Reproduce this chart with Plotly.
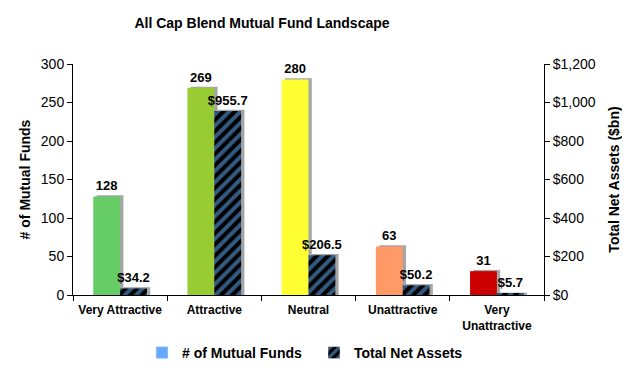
import plotly.graph_objects as go

categories = ["Very Attractive", "Attractive", "Neutral", "Unattractive", "Very<br>Unattractive"]
num_funds = [128, 269, 280, 63, 31]
net_assets = [34.2, 955.7, 206.5, 50.2, 5.7]
fund_colors = ["#66CC66", "#99CC33", "#FFFF33", "#FF9966", "#CC0000"]
left_ticks = [0, 50, 100, 150, 200, 250, 300]
right_ticks = [0, 200, 400, 600, 800, 1000, 1200]
right_tick_labels = ["$0", "$200", "$400", "$600", "$800", "$1,000", "$1,200"]

W = 0.285
SH = 0.035
FONT = "Liberation Sans, Arial, sans-serif"
shadow_color = "#A6A6A6"
hatch = dict(shape="/", fgcolor="#66B3FF", bgcolor="black", size=8, solidity=0.5,
             fillmode="overlay")

# page body has an 8px margin, so the figure is drawn at (8, 8)
FW, FH = 622, 360

fig = go.Figure()

fig.add_trace(go.Bar(x=categories, y=[v + 1.6 for v in num_funds], offset=-W + SH, width=W,
                     marker=dict(color=shadow_color, line=dict(width=0)), showlegend=False,
                     hoverinfo="skip", yaxis="y"))
fig.add_trace(go.Bar(x=categories, y=num_funds, offset=-W, width=W,
                     marker=dict(color=fund_colors, line=dict(width=0)), showlegend=False,
                     text=[str(v) for v in num_funds], textposition="outside",
                     constraintext="none",
                     textfont=dict(family=FONT, size=13, color="black", weight="bold"),
                     cliponaxis=False, yaxis="y"))
fig.add_trace(go.Bar(x=categories, y=[v + 6.5 for v in net_assets], offset=SH, width=W,
                     marker=dict(color=shadow_color, line=dict(width=0)), showlegend=False,
                     hoverinfo="skip", yaxis="y2"))
fig.add_trace(go.Bar(x=categories, y=net_assets, offset=0, width=W,
                     marker=dict(color="black", line=dict(width=0), pattern=hatch),
                     showlegend=False,
                     text=["$" + f"{v:.1f}" for v in net_assets], textposition="outside",
                     constraintext="none",
                     textfont=dict(family=FONT, size=13, color="black", weight="bold"),
                     cliponaxis=False, yaxis="y2"))
fig.add_trace(go.Bar(x=[categories[0]], y=[None], name="# of Mutual Funds",
                     marker=dict(color="#66AAFF"), yaxis="y"))
fig.add_trace(go.Bar(x=[categories[0]], y=[None], name="Total Net Assets",
                     marker=dict(color="black", pattern=hatch), yaxis="y2"))

fig.update_layout(
    width=FW, height=FH,
    margin=dict(l=65, r=86, t=56, b=73, autoexpand=False),
    paper_bgcolor="white", plot_bgcolor="white",
    barmode="overlay",
    font=dict(family=FONT, size=13, color="black"),
    title=dict(text="<b>All Cap Blend Mutual Fund Landscape</b>", x=254 / FW, xanchor="center",
               xref="container", y=1 - 10 / FH, yanchor="top", yref="container",
               font=dict(family=FONT, size=14, color="black")),
    xaxis=dict(type="category", tickson="boundaries", ticks="outside", ticklen=5,
               tickcolor="black", showline=True, linecolor="black", linewidth=1,
               showgrid=False, automargin=False, ticklabelstandoff=4,
               tickfont=dict(family=FONT, size=12, weight="bold")),
    yaxis=dict(range=[0, 300], tickvals=left_ticks, ticks="outside", ticklen=5,
               tickcolor="black", showline=True, linecolor="black", linewidth=1,
               showgrid=False, zeroline=False, tickfont=dict(size=14), automargin=False,
               title=dict(text="<b># of Mutual Funds</b>", font=dict(size=14), standoff=6)),
    yaxis2=dict(range=[0, 1200], tickvals=right_ticks, ticktext=right_tick_labels,
                overlaying="y", side="right",
                ticks="outside", ticklen=5, tickcolor="black", showline=True,
                linecolor="black", linewidth=1, showgrid=False, zeroline=False,
                tickfont=dict(size=14), automargin=False,
                title=dict(text="<b>Total Net Assets ($bn)</b>", font=dict(size=14), standoff=14)),
    legend=dict(orientation="h", x=134 / FW, xref="container", xanchor="left",
                y=15 / FH, yref="container", yanchor="middle", entrywidth=127,
                font=dict(family=FONT, size=14, weight="bold"), traceorder="normal"),
    showlegend=True,
)

fig.write_html("out.html")
